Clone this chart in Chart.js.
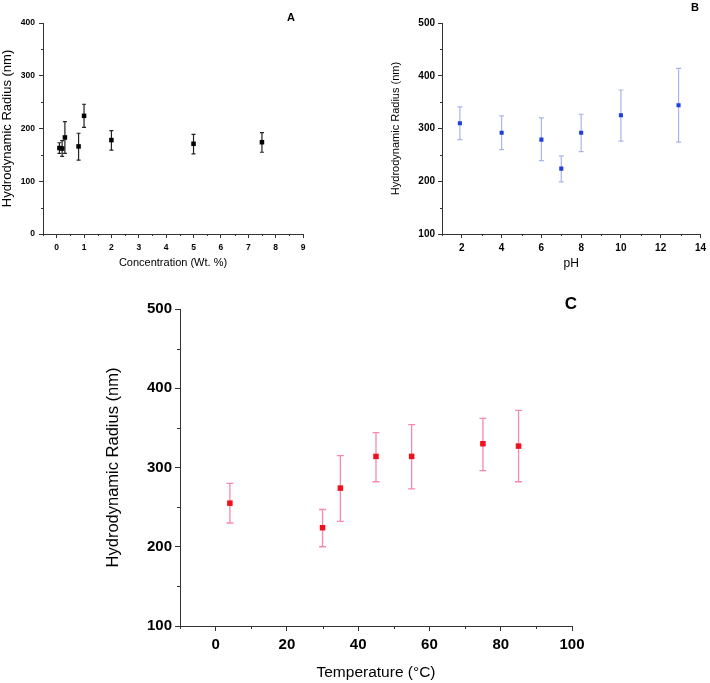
<!DOCTYPE html>
<html>
<head>
<meta charset="utf-8">
<script src="https://cdn.jsdelivr.net/npm/chart.js@4.4.1/dist/chart.umd.min.js"></script>
<style>
  body { margin: 0; background: #fff; }
  #wrap { position: relative; width: 710px; height: 683px; font-family: "Liberation Sans", Arial, sans-serif; }
  canvas { position: absolute; }
  .tag { position: absolute; font-weight: bold; line-height: 1; transform: translate(-50%, -50%); color: #000; }
</style>
</head>
<body>
<div id="wrap">
  <canvas id="chartA" width="345" height="285" style="left:0;top:0"></canvas>
  <canvas id="chartB" width="355" height="285" style="left:355px;top:0"></canvas>
  <canvas id="chartC" width="500" height="393" style="left:100px;top:290px"></canvas>
  <div class="tag" style="left:291px;top:17px;font-size:11px">A</div>
  <div class="tag" style="left:695px;top:7px;font-size:11px">B</div>
  <div class="tag" style="left:571px;top:303px;font-size:17px">C</div>
</div>
<script>
// A: concentration
const concX = [0.1, 0.2, 0.3, 0.8, 1, 2, 5, 7.5];
const concR = [163, 162, 183, 166, 224, 178, 171, 174];
const concHi = [173, 177, 213, 191, 246, 196, 189, 192];
const concLo = [153, 147, 153, 140, 202, 159, 152, 155];

// B: pH
const phX = [1.9, 4, 6, 7, 8, 10, 12.9];
const phR = [310, 292, 279, 224, 292, 325, 344];
const phHi = [341, 324, 320, 248, 327, 373, 414];
const phLo = [279, 260, 239, 199, 256, 276, 274];

// C: temperature
const tempX = [4, 30, 35, 45, 55, 75, 85];
const tempR = [255, 224, 274, 314, 314, 330, 327];
const tempHi = [280, 247, 315, 344, 354, 362, 372];
const tempLo = [230, 200, 232, 282, 273, 296, 282];

const FONT = '"Liberation Sans", Arial, sans-serif';

// error bars + minor ticks, all through the chart scales
const errorBars = {
  id: 'errorBars',
  beforeDatasetsDraw(chart, args, o) {
    const {ctx, scales: {x, y}} = chart;
    ctx.save();
    ctx.strokeStyle = o.color;
    ctx.lineWidth = o.width;
    chart.data.datasets[0].data.forEach((p, i) => {
      const px = x.getPixelForValue(p.x);
      const t = y.getPixelForValue(o.hi[i]);
      const b = y.getPixelForValue(o.lo[i]);
      ctx.beginPath();
      ctx.moveTo(px, t); ctx.lineTo(px, b);
      ctx.moveTo(px - o.cap, t); ctx.lineTo(px + o.cap, t);
      ctx.moveTo(px - o.cap, b); ctx.lineTo(px + o.cap, b);
      ctx.stroke();
    });
    ctx.restore();
  },
  afterDraw(chart, args, o) {
    const {ctx, scales: {x, y}} = chart;
    ctx.save();
    ctx.strokeStyle = o.axis;
    ctx.lineWidth = 1;
    ctx.beginPath();
    o.minorX.forEach(v => {
      const px = Math.round(x.getPixelForValue(v)) + 0.5;
      ctx.moveTo(px, x.top); ctx.lineTo(px, x.top + o.minorLen);
    });
    o.minorY.forEach(v => {
      const py = Math.round(y.getPixelForValue(v)) + 0.5;
      ctx.moveTo(y.right, py); ctx.lineTo(y.right - o.minorLen, py);
    });
    ctx.stroke();
    ctx.restore();
  }
};

function makeChart(id, cfg) {
  // major ticks only at multiples of the step
  const majors = step => s => {
    const ticks = [];
    for (let v = Math.ceil(s.min / step - 1e-9) * step; v <= s.max + 1e-9; v += step) ticks.push({value: v});
    s.ticks = ticks;
  };
  return new Chart(document.getElementById(id), {
    type: 'scatter',
    data: {
      datasets: [{
        data: cfg.xs.map((v, i) => ({x: v, y: cfg.ys[i]})),
        pointStyle: 'rect',
        pointRadius: cfg.r,
        pointBorderWidth: 0,
        backgroundColor: cfg.color,
        borderColor: cfg.color
      }]
    },
    plugins: [errorBars],
    options: {
      responsive: false,
      animation: false,
      events: [],
      layout: { padding: cfg.pad },
      plugins: {
        legend: { display: false },
        tooltip: { enabled: false },
        errorBars: {
          hi: cfg.hi, lo: cfg.lo, color: cfg.barColor, width: cfg.barW, cap: cfg.cap,
          axis: '#333', minorX: cfg.minorX, minorY: cfg.minorY, minorLen: cfg.minorLen
        }
      },
      scales: {
        x: {
          type: 'linear', min: cfg.xMin, max: cfg.xMax,
          afterBuildTicks: majors(cfg.xStep),
          afterFit: s => { s.height = cfg.xH; },
          grid: { drawOnChartArea: false, drawTicks: true, tickLength: cfg.tickLen, tickColor: '#333' },
          border: { color: '#333', width: 1 },
          ticks: { color: '#000', padding: cfg.xPad, maxRotation: 0, autoSkip: false,
                   font: { family: FONT, size: cfg.tickFont, weight: 'bold' } },
          title: { display: true, text: cfg.xTitle, color: '#000',
                   font: { family: FONT, size: cfg.xTitleFont }, padding: { top: 0, bottom: cfg.xTitlePad } }
        },
        y: {
          type: 'linear', min: cfg.yMin, max: cfg.yMax,
          afterBuildTicks: majors(100),
          afterFit: s => { s.width = cfg.yW; },
          grid: { drawOnChartArea: false, drawTicks: true, tickLength: cfg.tickLen, tickColor: '#333' },
          border: { color: '#333', width: 1 },
          ticks: { color: '#000', padding: cfg.yPad, autoSkip: false,
                   font: { family: FONT, size: cfg.tickFont, weight: 'bold' } },
          title: { display: true, text: 'Hydrodynamic Radius (nm)', color: '#000',
                   font: { family: FONT, size: cfg.yTitleFont }, padding: { top: cfg.yTitlePad, bottom: 0 } }
        }
      }
    }
  });
}

makeChart('chartA', {
  xs: concX, ys: concR, hi: concHi, lo: concLo,
  color: '#000', barColor: '#222', barW: 1.2, cap: 2, r: 3.2,
  pad: { left: 0, top: 23, right: 42, bottom: 0 },
  xMin: -0.5, xMax: 9, xStep: 1, yMin: 0, yMax: 400,
  minorX: [-0.5, 0.5, 1.5, 2.5, 3.5, 4.5, 5.5, 6.5, 7.5, 8.5], minorY: [50, 150, 250, 350],
  xH: 51, yW: 43, tickLen: 4, minorLen: 2, xPad: 5, yPad: 4, tickFont: 8.5,
  xTitle: 'Concentration (Wt. %)', xTitleFont: 11, xTitlePad: 15, yTitleFont: 13, yTitlePad: 0
});

makeChart('chartB', {
  xs: phX, ys: phR, hi: phHi, lo: phLo,
  color: '#1f3fd8', barColor: '#a9b3ee', barW: 1.2, cap: 2.5, r: 2.9,
  pad: { left: 0, top: 23, right: 7, bottom: 0 },
  xMin: 1, xMax: 14, xStep: 2, yMin: 100, yMax: 500,
  minorX: [1, 3, 5, 7, 9, 11, 13], minorY: [150, 250, 350, 450],
  xH: 51, yW: 87, tickLen: 4, minorLen: 2, xPad: 4, yPad: 3, tickFont: 10,
  xTitle: 'pH', xTitleFont: 12, xTitlePad: 14, yTitleFont: 11, yTitlePad: 34
});

makeChart('chartC', {
  xs: tempX, ys: tempR, hi: tempHi, lo: tempLo,
  color: '#f0101e', barColor: '#f58aaa', barW: 1.3, cap: 3.5, r: 3.9,
  pad: { left: 0, top: 19, right: 28, bottom: 0 },
  xMin: -10, xMax: 100, xStep: 20, yMin: 100, yMax: 500,
  minorX: [-10, 10, 30, 50, 70, 90], minorY: [150, 250, 350, 450],
  xH: 57, yW: 80, tickLen: 5, minorLen: 3, xPad: 5, yPad: 3, tickFont: 15,
  xTitle: 'Temperature (°C)', xTitleFont: 15.5, xTitlePad: 1, yTitleFont: 16.5, yTitlePad: 3.5
});
</script>
</body>
</html>
